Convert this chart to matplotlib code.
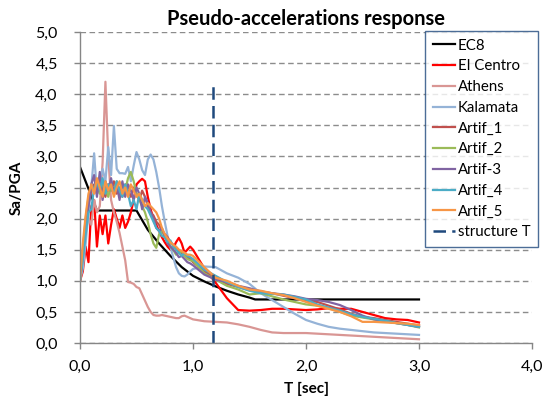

# Pseudo-accelerations response spectra (EC8 vs records vs artificial accelerograms)
import matplotlib
matplotlib.use("Agg")
import matplotlib.pyplot as plt

plt.rcParams['font.family'] = ['Lato', 'DejaVu Sans']

# periods used by the recorded / artificial spectra
periods = [0.000, 0.025, 0.050, 0.075, 0.100, 0.125, 0.150, 0.175, 0.200, 0.225,
           0.250, 0.275, 0.300, 0.325, 0.350, 0.375, 0.400, 0.425, 0.450, 0.475,
           0.500, 0.525, 0.550, 0.575, 0.600, 0.625, 0.650, 0.675, 0.700, 0.725,
           0.750, 0.775, 0.800, 0.825, 0.850, 0.875, 0.900, 0.925, 0.950, 0.975,
           1.000, 1.1, 1.2, 1.3, 1.4, 1.5, 1.6, 1.7, 1.8, 1.9,
           2.0, 2.1, 2.2, 2.3, 2.4, 2.5, 2.6, 2.7, 2.8, 2.9, 3.0]

# EC8 design spectrum (corner points)
ec8_T = [0.0, 0.15, 0.5, 0.6, 0.7, 0.8, 0.9, 1.0, 1.1, 1.2, 1.3, 1.4, 1.5, 1.55, 3.0]
ec8 = [2.83, 2.13, 2.13, 1.82, 1.60, 1.40, 1.22, 1.08, 0.99, 0.91, 0.84, 0.78, 0.73, 0.70, 0.70]

el_centro = [1.00, 1.15, 1.55, 1.30, 2.20, 2.30, 1.55, 2.05, 1.75, 2.05, 1.60, 1.90, 2.15, 2.00, 1.85, 2.05, 1.85, 1.95, 2.10, 2.30,
             2.55, 2.60, 2.64, 2.60, 2.35, 2.15, 2.00, 1.90, 1.80, 1.70, 1.62, 1.55, 1.50, 1.52, 1.62, 1.69, 1.60, 1.45, 1.50, 1.55,
             1.50, 1.20, 0.97, 0.72, 0.53, 0.52, 0.53, 0.55, 0.55, 0.54, 0.53, 0.54, 0.56, 0.55, 0.55, 0.50, 0.45, 0.40, 0.38, 0.37, 0.33]

athens = [1.00, 1.30, 1.80, 2.00, 1.90, 2.30, 2.10, 2.20, 2.90, 4.20, 3.00, 2.30, 2.10, 1.95, 1.77, 1.55, 1.33, 0.98, 0.97, 0.95,
          0.90, 0.88, 0.78, 0.68, 0.58, 0.50, 0.45, 0.44, 0.44, 0.45, 0.44, 0.43, 0.42, 0.41, 0.40, 0.40, 0.43, 0.44, 0.42, 0.40,
          0.38, 0.35, 0.34, 0.33, 0.30, 0.26, 0.21, 0.17, 0.16, 0.16, 0.16, 0.15, 0.14, 0.13, 0.12, 0.11, 0.10, 0.09, 0.08, 0.07, 0.06]

kalamata = [1.00, 1.20, 1.60, 2.10, 2.50, 3.05, 2.40, 2.60, 2.80, 2.60, 3.15, 2.70, 3.49, 2.80, 2.73, 2.73, 2.72, 2.83, 2.60, 2.85,
            3.07, 2.95, 2.78, 2.70, 2.95, 3.03, 2.95, 2.75, 2.50, 2.20, 1.95, 1.72, 1.55, 1.38, 1.22, 1.12, 1.08, 1.07, 1.10, 1.15,
            1.19, 1.23, 1.22, 1.12, 1.05, 0.95, 0.80, 0.69, 0.58, 0.47, 0.37, 0.31, 0.26, 0.23, 0.21, 0.19, 0.17, 0.16, 0.15, 0.14, 0.13]

artif_1 = [1.00, 1.45, 1.90, 2.25, 2.45, 2.55, 2.40, 2.60, 2.50, 2.35, 2.55, 2.45, 2.60, 2.40, 2.50, 2.35, 2.55, 2.45, 2.35, 2.50,
           2.40, 2.30, 2.45, 2.35, 2.20, 2.10, 2.05, 1.95, 1.90, 1.80, 1.75, 1.70, 1.62, 1.58, 1.52, 1.48, 1.45, 1.42, 1.38, 1.35,
           1.30, 1.15, 1.05, 0.95, 0.90, 0.85, 0.82, 0.80, 0.76, 0.72, 0.68, 0.66, 0.60, 0.54, 0.47, 0.42, 0.40, 0.37, 0.34, 0.31, 0.28]

artif_2 = [1.00, 1.50, 2.00, 2.35, 2.50, 2.45, 2.60, 2.40, 2.55, 2.50, 2.35, 2.55, 2.45, 2.60, 2.40, 2.55, 2.45, 2.65, 2.75, 2.60,
           2.40, 2.30, 2.20, 2.10, 1.95, 1.75, 1.60, 1.53, 1.75, 1.80, 1.70, 1.65, 1.55, 1.50, 1.42, 1.45, 1.48, 1.40, 1.35, 1.33,
           1.32, 1.12, 1.02, 0.92, 0.86, 0.78, 0.80, 0.75, 0.70, 0.66, 0.62, 0.60, 0.56, 0.50, 0.44, 0.41, 0.38, 0.35, 0.32, 0.29, 0.25]

artif_3 = [1.00, 1.40, 1.85, 2.20, 2.55, 2.70, 2.35, 2.75, 2.30, 2.60, 2.45, 2.65, 2.40, 2.55, 2.30, 2.60, 2.35, 2.55, 2.45, 2.30,
           2.50, 2.40, 2.15, 2.35, 2.25, 2.10, 2.00, 1.85, 1.80, 1.85, 1.72, 1.60, 1.55, 1.50, 1.45, 1.38, 1.40, 1.35, 1.30, 1.28,
           1.25, 1.10, 1.02, 0.98, 0.92, 0.88, 0.83, 0.80, 0.78, 0.75, 0.71, 0.69, 0.66, 0.61, 0.53, 0.44, 0.38, 0.35, 0.32, 0.29, 0.26]

artif_4 = [1.00, 1.35, 1.75, 2.10, 2.15, 2.50, 2.60, 2.45, 2.65, 2.40, 2.55, 2.50, 2.40, 2.60, 2.45, 2.35, 2.55, 2.40, 2.20, 2.30,
           2.15, 2.40, 2.30, 2.20, 2.15, 2.05, 1.95, 1.85, 1.80, 1.72, 1.70, 1.62, 1.65, 1.55, 1.50, 1.45, 1.40, 1.45, 1.40, 1.38,
           1.35, 1.18, 1.08, 0.98, 0.90, 0.84, 0.80, 0.79, 0.78, 0.74, 0.70, 0.62, 0.57, 0.52, 0.46, 0.42, 0.39, 0.36, 0.32, 0.29, 0.26]

artif_5 = [1.00, 1.60, 2.05, 2.40, 2.55, 2.40, 2.65, 2.50, 2.35, 2.60, 2.45, 2.55, 2.35, 2.50, 2.60, 2.40, 2.50, 2.35, 2.55, 2.45,
           2.35, 2.40, 2.30, 2.20, 2.25, 2.20, 2.15, 2.10, 2.00, 1.85, 1.75, 1.68, 1.62, 1.58, 1.55, 1.50, 1.48, 1.45, 1.42, 1.42,
           1.40, 1.22, 1.05, 1.00, 0.92, 0.86, 0.84, 0.80, 0.77, 0.72, 0.66, 0.60, 0.55, 0.50, 0.43, 0.34, 0.34, 0.33, 0.32, 0.31, 0.29]

# fundamental period of the structure
structure_T = [1.18, 1.18]
structure_sa = [0.0, 4.2]

x_ticks = [0, 1, 2, 3, 4]
x_labels = ['0,0', '1,0', '2,0', '3,0', '4,0']
y_ticks = [0, 0.5, 1, 1.5, 2, 2.5, 3, 3.5, 4, 4.5, 5]
y_labels = ['0,0', '0,5', '1,0', '1,5', '2,0', '2,5', '3,0', '3,5', '4,0', '4,5', '5,0']

fig = plt.figure(figsize=(5.43, 4.01), dpi=100)
ax = fig.add_axes([80/543, 1-343/401, 452/543, 311/401])

lw = 1.6
ax.plot(ec8_T, ec8, color='black', lw=lw, label='EC8')
ax.plot(periods, el_centro, color='#FF0000', lw=lw, label='El Centro')
ax.plot(periods, athens, color='#D99694', lw=lw, label='Athens')
ax.plot(periods, kalamata, color='#95B3D7', lw=lw, label='Kalamata')
ax.plot(periods, artif_1, color='#C0504D', lw=lw, label='Artif_1')
ax.plot(periods, artif_2, color='#9BBB59', lw=lw, label='Artif_2')
ax.plot(periods, artif_3, color='#8064A2', lw=lw, label='Artif-3')
ax.plot(periods, artif_4, color='#4BACC6', lw=lw, label='Artif_4')
ax.plot(periods, artif_5, color='#F79646', lw=lw, label='Artif_5')
ax.plot(structure_T, structure_sa, color='#1F497D', lw=1.8, dashes=(5, 2.5), label='structure T')

ax.set_xlim(0, 4)
ax.set_ylim(0, 5)
ax.set_xticks(x_ticks)
ax.set_xticklabels(x_labels)
ax.set_yticks(y_ticks)
ax.set_yticklabels(y_labels)
ax.tick_params(labelsize=11.5, colors='#868686', labelcolor='black', length=4, width=1)
ax.tick_params(axis='y', pad=12)
ax.tick_params(axis='x', pad=8)

# dashed horizontal gridlines
ax.yaxis.grid(True, color='#8C8C8C', linestyle=(0, (4, 2.5)), linewidth=1)
ax.set_axisbelow(True)

for side in ['top', 'right']:
    ax.spines[side].set_visible(False)
for side in ['left', 'bottom']:
    ax.spines[side].set_color('#868686')
    ax.spines[side].set_linewidth(1)

ax.set_title('Pseudo-accelerations response', fontsize=14.5, fontweight='bold', pad=5)
ax.set_xlabel('T [sec]', fontsize=11, fontweight='bold', labelpad=6)
ax.set_ylabel('Sa/PGA', fontsize=11, fontweight='bold', labelpad=8)

leg = fig.legend(loc='upper left', bbox_to_anchor=(425/543, 1-31/401), fontsize=10.8,
                 frameon=True, fancybox=False, handlelength=1.5, handletextpad=0.2,
                 labelspacing=0.45, borderpad=0.5, borderaxespad=0)
leg.get_frame().set_edgecolor('#1F497D')
leg.get_frame().set_linewidth(1)

fig.savefig('out.png', dpi=100)
